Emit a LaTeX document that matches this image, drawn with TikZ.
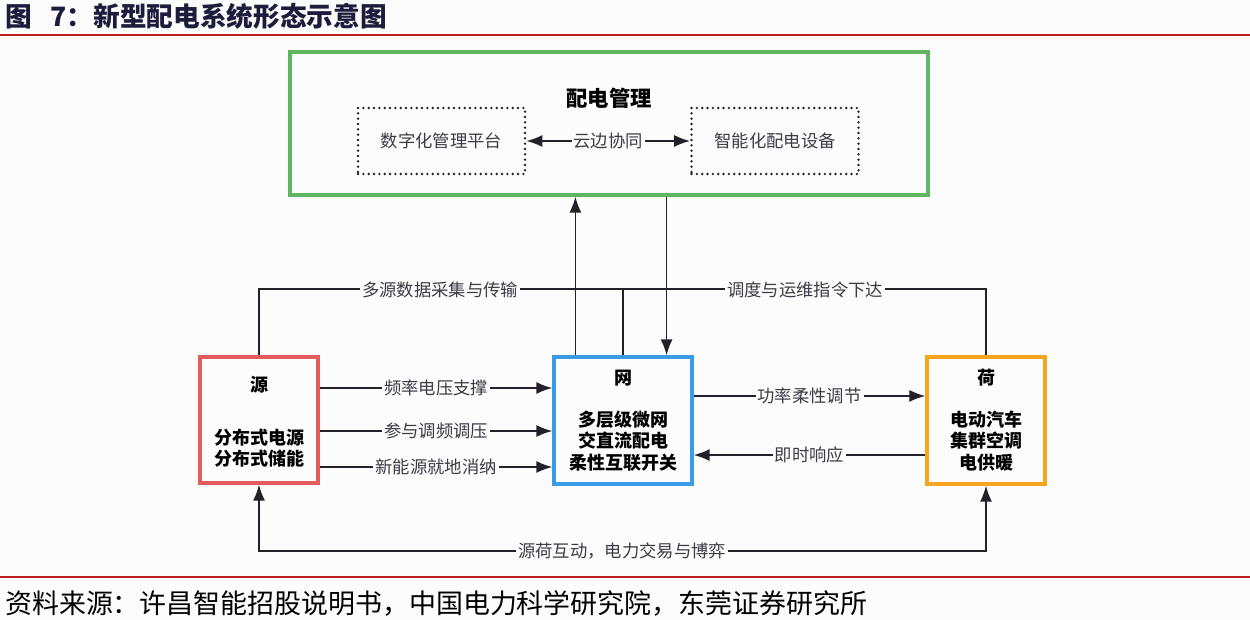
\documentclass[tikz,border=0pt]{standalone}
\usepackage{fontspec}
\setmainfont{Noto Sans CJK SC}
\usetikzlibrary{arrows.meta}
\definecolor{linec}{RGB}{36,32,42}
\definecolor{labc}{RGB}{62,58,70}
\definecolor{greenc}{RGB}{96,182,96}
\definecolor{redc}{RGB}{226,92,92}
\definecolor{bluec}{RGB}{58,156,230}
\definecolor{orangec}{RGB}{246,166,30}
\definecolor{rulec}{RGB}{190,32,32}
\definecolor{titlec}{RGB}{28,28,60}
\definecolor{bgc}{RGB}{252,252,252}
\tikzset{
  conn/.style={draw=linec, line width=1.3pt},
  arr/.style={conn, -{Latex[length=12pt,width=9pt]}},
  darr/.style={conn, {Latex[length=12pt,width=9pt]}-{Latex[length=12pt,width=9pt]}},
  lab/.style={fill=bgc, text=labc, font=\fontsize{13pt}{15pt}\selectfont, inner sep=1.5pt},
  boxtext/.style={text=black, font=\fontsize{13.5pt}{16pt}\selectfont\bfseries, align=center, inner sep=0pt},
  mainbox/.style={draw, line width=2.4pt, fill=bgc, inner sep=0pt},
  dotbox/.style={draw=linec, line width=2pt, dash pattern=on 0pt off 4pt, line cap=round, minimum width=125.25pt, minimum height=49.5pt, inner sep=0pt, font=\fontsize{13pt}{15pt}\selectfont, text=labc},
  rulestyle/.style={draw=rulec, line width=1.6pt}
}
\begin{document}
\begin{tikzpicture}[x=0.75pt, y=-0.75pt]
\useasboundingbox[fill=bgc] (0,0) rectangle (1250,620);
% title and rules
\node[anchor=west, text=titlec, font=\fontsize{20pt}{22pt}\selectfont\bfseries, inner sep=0pt] (title) at (5,16) {图\hspace{0.7em}7：新型配电系统形态示意图};
\coordinate (r1a) at (0,35); \coordinate (r1b) at (1250,35);
\draw[rulestyle] (r1a) -- (r1b);
\coordinate (r2a) at (0,577); \coordinate (r2b) at (1250,577);
\draw[rulestyle] (r2a) -- (r2b);
\node[anchor=west, text=black, font=\fontsize{20.2pt}{22pt}\selectfont, inner sep=0pt] (source) at (5,604) {资料来源：许昌智能招股说明书，中国电力科学研究院，东莞证券研究所};

% management box
\node[mainbox, draw=greenc, minimum width=478.5pt, minimum height=107.25pt] (mgmt) at (609,123.5) {};
\node[boxtext, font=\fontsize{16pt}{18pt}\selectfont\bfseries] (mgmtT) at (609,98) {配电管理};
\node[dotbox] (dig) at (441.5,141) {数字化管理平台};
\node[dotbox] (dev) at (775,141) {智能化配电设备};
\draw[darr] (dig.east) -- node[lab] (cloud) {云边协同} (dev.west);

% three boxes
\node[mainbox, draw=redc, minimum width=88.5pt, minimum height=94.5pt] (yuan) at (259,420) {};
\node[mainbox, draw=bluec, minimum width=103.5pt, minimum height=95.25pt] (wang) at (623,420.5) {};
\node[mainbox, draw=orangec, minimum width=88.5pt, minimum height=95.25pt] (he) at (986,420.5) {};

\node[boxtext] (yuanT) at (259,385) {源};
\node[boxtext] (yuanB) at (259,448) {分布式电源\\分布式储能};
\node[boxtext] (wangT) at (623,378) {网};
\node[boxtext] (wangB) at (623,441) {多层级微网\\交直流配电\\柔性互联开关};
\node[boxtext] (heT) at (986,378) {荷};
\node[boxtext] (heB) at (986,441) {电动汽车\\集群空调\\电供暖};

% bus line
\coordinate (bus) at (622,289);
\draw[conn] (yuan.north) |- (bus) -| (he.north);
\draw[conn] (wang.north) -- (wang.north |- bus);
\node[lab] (busL) at (440,290) {多源数据采集与传输};
\node[lab] (busR) at (805,290) {调度与运维指令下达};

% vertical arrows between wang and mgmt
\draw[arr] ([xshift=17.25pt]wang.north west) -- ([xshift=17.25pt]wang.north west |- mgmt.south);
\draw[arr] ([xshift=-20.25pt]wang.north east |- mgmt.south) -- ([xshift=-20.25pt]wang.north east);

% yuan -> wang
\draw[arr] ([yshift=24pt]yuan.east) -- node[lab] (l1) {频率电压支撑} ([yshift=24pt]yuan.east -| wang.west);
\draw[arr] ([yshift=-8.25pt]yuan.east) -- node[lab] (l2) {参与调频调压} ([yshift=-8.25pt]yuan.east -| wang.west);
\draw[arr] ([yshift=-35.25pt]yuan.east) -- node[lab] (l3) {新能源就地消纳} ([yshift=-35.25pt]yuan.east -| wang.west);

% wang <-> he
\draw[arr] ([yshift=18.4pt]wang.east) -- node[lab] (l4) {功率柔性调节} ([yshift=18.4pt]wang.east -| he.west);
\draw[arr] ([yshift=-25.9pt]he.west) -- node[lab] (l5) {即时响应} ([yshift=-25.9pt]he.west -| wang.east);

% bottom interaction
\coordinate (low) at (622,551);
\draw[darr] (yuan.south) |- (low) -| (he.south);
\node[lab] (lowL) at (low) {源荷互动，电力交易与博弈};
\end{tikzpicture}
\end{document}
